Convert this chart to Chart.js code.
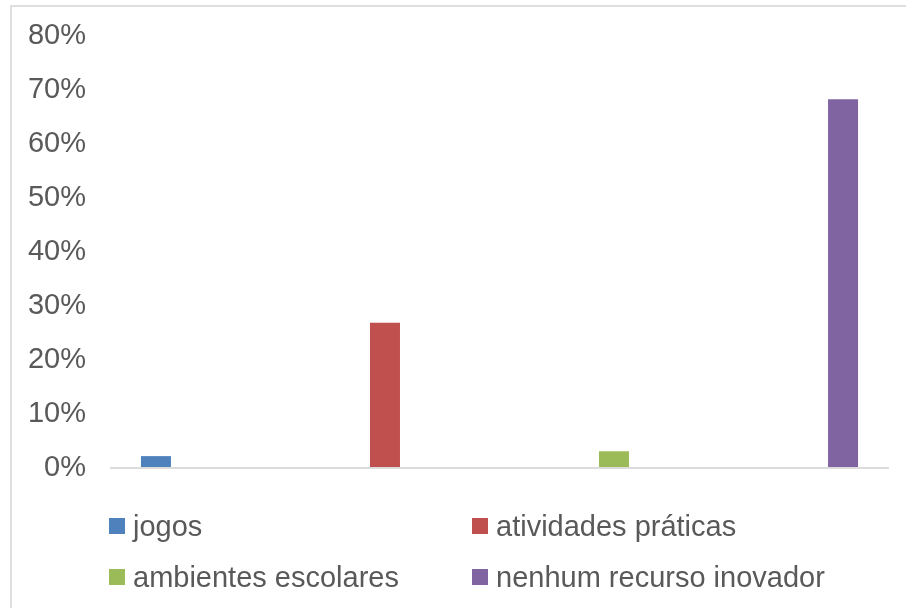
<!DOCTYPE html>
<html lang="pt">
<head>
<meta charset="utf-8">
<title>Recursos inovadores</title>
<script src="https://cdn.jsdelivr.net/npm/chart.js@4.4.1/dist/chart.umd.min.js"></script>
<style>
  html, body { margin: 0; padding: 0; background: #ffffff; }
  #wrap { position: relative; width: 906px; height: 608px; overflow: hidden; }
  #chart { position: absolute; left: 0; top: 0; }
  #frame {
    position: absolute; left: 10px; top: 5px; width: 920px; height: 620px;
    border-left: 2px solid #dedede; border-top: 2px solid #dedede;
    pointer-events: none;
  }
  #legend {
    position: absolute; left: 109px; top: 504px; width: 760px;
    display: grid; grid-template-columns: 363px 400px; row-gap: 7px;
    font-family: "Liberation Sans", Arial, sans-serif; font-size: 29px; color: #595959;
  }
  .item { display: flex; align-items: center; height: 44px; white-space: nowrap; }
  .swatch { width: 16px; height: 16px; margin-right: 8px; flex: none; }
</style>
</head>
<body>
<div id="wrap">
  <canvas id="chart" width="906" height="608"></canvas>
  <div id="frame"></div>
  <div id="legend"></div>
</div>
<script>
// Respostas: recursos inovadores usados nas aulas (percentual)
const categories = [''];
const seriesNames = ['jogos', 'atividades práticas', 'ambientes escolares', 'nenhum recurso inovador'];
const seriesValues = [2.2, 26.9, 3.1, 68.3];
const seriesColors = ['#4F81BD', '#C0504D', '#9BBB59', '#8064A2'];
const yTickLabels = ['0%', '10%', '20%', '30%', '40%', '50%', '60%', '70%', '80%'];
const yMax = 80;
const yStep = 10;

const textColor = '#595959';
const font = { family: '"Liberation Sans", Arial, sans-serif', size: 29 };

const datasets = seriesNames.map((name, i) => ({
  label: name,
  data: [seriesValues[i]],
  backgroundColor: seriesColors[i],
  borderWidth: 0,
  categoryPercentage: 1.176,
  barPercentage: 0.131
}));

// Linha do eixo horizontal, desenhada sobre a área do gráfico no valor zero
const baseline = {
  id: 'baseline',
  afterDatasetsDraw(chart) {
    const { ctx, chartArea, scales } = chart;
    const y = Math.round(scales.y.getPixelForValue(0));
    ctx.save();
    ctx.fillStyle = '#dcdcdc';
    ctx.fillRect(chartArea.left, y - 1, chartArea.right - chartArea.left, 2);
    ctx.restore();
  }
};

const chart = new Chart(document.getElementById('chart'), {
  type: 'bar',
  data: { labels: categories, datasets },
  plugins: [baseline],
  options: {
    responsive: false,
    animation: false,
    devicePixelRatio: 1,
    layout: { padding: { top: 36, right: 17, bottom: 140, left: 0 } },
    plugins: { legend: { display: false }, tooltip: { enabled: false } },
    scales: {
      x: {
        type: 'category',
        grid: { display: false, drawTicks: false },
        border: { display: false },
        ticks: { display: false },
        afterFit: (s) => { s.height = 0; }
      },
      y: {
        min: 0,
        max: yMax,
        grid: { display: false, drawTicks: false },
        border: { display: false },
        ticks: {
          stepSize: yStep,
          padding: 24,
          color: textColor,
          font,
          callback: (v) => yTickLabels[Math.round(v / yStep)]
        },
        afterFit: (s) => {
          s.width = 110;
          s.paddingTop = 0;
          s.paddingBottom = 0;
        }
      }
    }
  }
});

// Legenda em duas colunas, gerada a partir das séries do gráfico
const legendEl = document.getElementById('legend');
chart.data.datasets.forEach((ds) => {
  const item = document.createElement('div');
  item.className = 'item';
  const sw = document.createElement('span');
  sw.className = 'swatch';
  sw.style.background = ds.backgroundColor;
  const tx = document.createElement('span');
  tx.textContent = ds.label;
  item.appendChild(sw);
  item.appendChild(tx);
  legendEl.appendChild(item);
});
</script>
</body>
</html>
